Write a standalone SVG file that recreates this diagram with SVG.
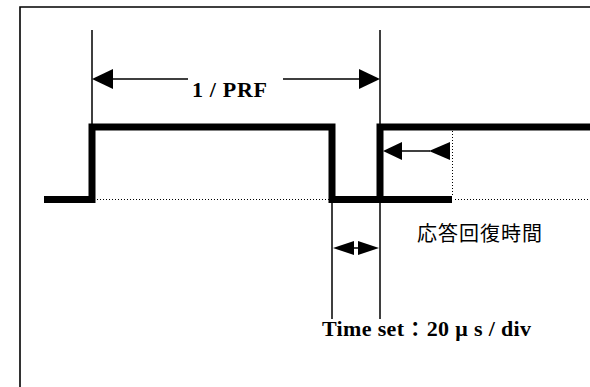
<svg xmlns="http://www.w3.org/2000/svg" width="590" height="387" viewBox="0 0 590 387">
<defs>
<style>
.frame{fill:none;stroke:#000;stroke-width:1.6}
.sig{fill:none;stroke:#000;stroke-width:7;stroke-linejoin:miter;stroke-linecap:butt}
.thin{fill:none;stroke:#000;stroke-width:1.5}
.dot{fill:none;stroke:#000;stroke-width:1;stroke-dasharray:1 2}
.head{fill:#000}
.lbl{font-family:"Liberation Serif","Noto Serif CJK JP","Noto Sans CJK JP",serif;font-weight:bold;font-size:22px;fill:#000}
.jp{font-family:"Noto Sans CJK JP",sans-serif;font-size:20px;fill:#000}
</style>
</defs>
<rect width="590" height="387" fill="#fff"/>
<path class="frame" d="M20,387 V7 H590"/>
<g id="signal">
<path class="sig" d="M44,199.5 H92 V127 H332 V199.5 H452"/>
<path class="sig" d="M380,199.5 V127 H590"/>
</g>
<g id="dotted">
<path class="dot" d="M97,199.5 H329 M455,199.5 H590 M452.5,131 V196"/>
</g>
<g id="connectors">
<path class="thin" d="M92,30 V127 M380,30 V127"/>
<path class="thin" d="M110,79 H188 M283,79 H362"/>
<polygon class="head" points="92,79 113,69 113,89"/>
<polygon class="head" points="380,79 359,69 359,89"/>
<path class="thin" d="M332,203 V319 M380,203 V319"/>
<path class="thin" d="M350,248 H362"/>
<polygon class="head" points="333,248 354,241 354,255"/>
<polygon class="head" points="379,248 358,241 358,255"/>
<path class="thin" d="M400,151 H430"/>
<polygon class="head" points="383,151 402,142 402,160"/>
<polygon class="head" points="429,151 450,142 450,160"/>
</g>
<g id="label-prf"><text class="lbl" x="192" y="97" textLength="75" lengthAdjust="spacing">1 / PRF</text></g>
<g id="label-recovery"><text class="jp" x="417" y="240.5" letter-spacing="1">応答回復時間</text></g>
<g id="label-time"><text class="lbl" x="322" y="336" textLength="209" lengthAdjust="spacing">Time set：20 μ s / div</text></g>
</svg>
